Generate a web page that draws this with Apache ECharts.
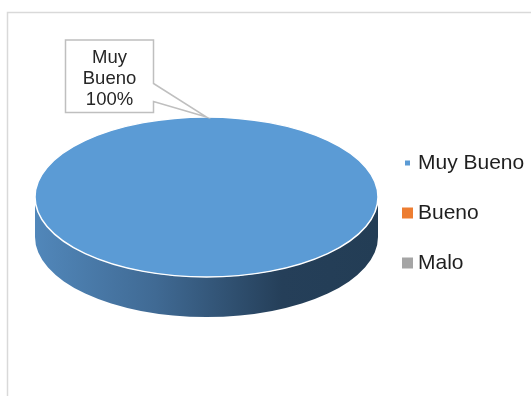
<!DOCTYPE html>
<html>
<head>
<meta charset="utf-8">
<script src="https://cdn.jsdelivr.net/npm/echarts@6/dist/echarts.min.js"></script>
<style>
  html, body { margin: 0; padding: 0; background: #fff; }
  #chart { width: 531px; height: 396px; }
</style>
</head>
<body>
<div id="chart"></div>
<script>
// Survey result categories and their counts
const categories = ['Muy Bueno', 'Bueno', 'Malo'];
const values = [100, 0, 0];
const colors = ['#5b9bd5', '#ed7d31', '#a5a5a5'];

const total = values.reduce((a, b) => a + b, 0);

// Tilted pie geometry (pixels)
const CX = 206.5, CY = 197, RX = 171.5, RY = 80, DEPTH = 40;
const START = -Math.PI / 2;
const FONT = '"Liberation Sans", Arial, sans-serif';

function pt(a, dy) {
  return [CX + RX * Math.cos(a), CY + (dy || 0) + RY * Math.sin(a)];
}
// elliptical arc from a0 to a1 (clockwise when a1 > a0, otherwise back)
function arc(a0, a1, dy) {
  let d = '';
  const n = Math.max(1, Math.ceil(Math.abs(a1 - a0) / (Math.PI / 2)));
  const sweep = a1 > a0 ? 1 : 0;
  for (let i = 1; i <= n; i++) {
    const a = a0 + (a1 - a0) * i / n;
    const p = pt(a, dy);
    d += ' A ' + RX + ' ' + RY + ' 0 0 ' + sweep + ' ' + p[0] + ' ' + p[1];
  }
  return d;
}

function sliceAngles(idx) {
  let before = 0;
  for (let i = 0; i < idx; i++) before += values[i];
  const a0 = START + before / total * Math.PI * 2;
  const a1 = a0 + values[idx] / total * Math.PI * 2;
  return [a0, a1];
}

function makeRender(idx) {
  return function (params, api) {
    const v = api.value(0);
    if (!v) return;
    const [a0, a1] = sliceAngles(idx);
    const full = a1 - a0 >= Math.PI * 2 - 1e-6;
    const color = api.visual('color');
    const children = [];

    // front wall of the slice
    const s = Math.max(a0, 0), e = Math.min(a1, Math.PI);
    if (e > s) {
      const p0 = pt(s), p1 = pt(e, DEPTH);
      const d = 'M ' + p0[0] + ' ' + p0[1] + arc(s, e, 0) +
        ' L ' + p1[0] + ' ' + p1[1] + arc(e, s, DEPTH) + ' Z';
      children.push({
        type: 'path',
        shape: { pathData: d },
        style: {
          fill: {
            type: 'linear', x: 0, y: 0, x2: 1, y2: 0,
            colorStops: [
              { offset: 0, color: '#5187ba' },
              { offset: 0.35, color: '#406a94' },
              { offset: 0.72, color: '#253f59' },
              { offset: 1, color: '#233d55' }
            ]
          },
          stroke: null
        }
      });
    }

    // top face
    const q0 = pt(a0);
    let top;
    if (full) {
      top = 'M ' + q0[0] + ' ' + q0[1] + arc(a0, a1, 0) + ' Z';
    } else {
      top = 'M ' + CX + ' ' + CY + ' L ' + q0[0] + ' ' + q0[1] + arc(a0, a1, 0) + ' Z';
    }
    children.push({
      type: 'path',
      shape: { pathData: top },
      style: { fill: color, stroke: '#ffffff', lineWidth: 1.5 }
    });

    // callout label
    const anchorAngle = full ? a0 : (a0 + a1) / 2;
    const tip = pt(anchorAngle);
    const bx1 = tip[0] - 53, by0 = tip[1] - 77, bx0 = bx1 - 88, by1 = by0 + 72.5;
    const callout = 'M ' + bx0 + ' ' + by0 + ' H ' + bx1 + ' V ' + (by0 + 43.5) +
      ' L ' + tip[0] + ' ' + tip[1] + ' L ' + bx1 + ' ' + (by0 + 61.5) +
      ' V ' + by1 + ' H ' + bx0 + ' Z';
    children.push({
      type: 'path',
      shape: { pathData: callout },
      style: { fill: '#ffffff', stroke: '#bfbfbf', lineWidth: 1.5 }
    });
    const pct = Math.round(v / total * 100) + '%';
    children.push({
      type: 'text',
      style: {
        text: categories[idx].replace(' ', '\n') + '\n' + pct,
        x: (bx0 + bx1) / 2, y: (by0 + by1) / 2 + 2.5,
        align: 'center', verticalAlign: 'middle',
        fontFamily: FONT, fontSize: 18.5, lineHeight: 21,
        fill: '#262626'
      }
    });

    return { type: 'group', children: children };
  };
}

const chart = echarts.init(document.getElementById('chart'), null, { renderer: 'canvas' });

chart.setOption({
  animation: false,
  backgroundColor: '#ffffff',
  graphic: [{
    type: 'rect',
    shape: { x: 7.5, y: 12.5, width: 600, height: 500 },
    style: { fill: 'none', stroke: '#d9d9d9', lineWidth: 1.5 },
    silent: true,
    z: -10
  }],
  legend: {
    orient: 'vertical',
    left: 399,
    top: 152.5,
    padding: 0,
    itemWidth: 11,
    itemHeight: 11,
    itemGap: 29,
    icon: 'rect',
    selectedMode: false,
    textStyle: { fontFamily: FONT, fontSize: 21, lineHeight: 21, color: '#1f1f1f' },
    data: [
      { name: categories[0], itemStyle: { borderColor: '#ffffff', borderWidth: 6 } },
      { name: categories[1] },
      { name: categories[2] }
    ]
  },
  series: categories.map((name, i) => ({
    type: 'custom',
    name: name,
    coordinateSystem: 'none',
    itemStyle: { color: colors[i] },
    renderItem: makeRender(i),
    data: [[values[i]]],
    silent: true
  }))
});
</script>
</body>
</html>
